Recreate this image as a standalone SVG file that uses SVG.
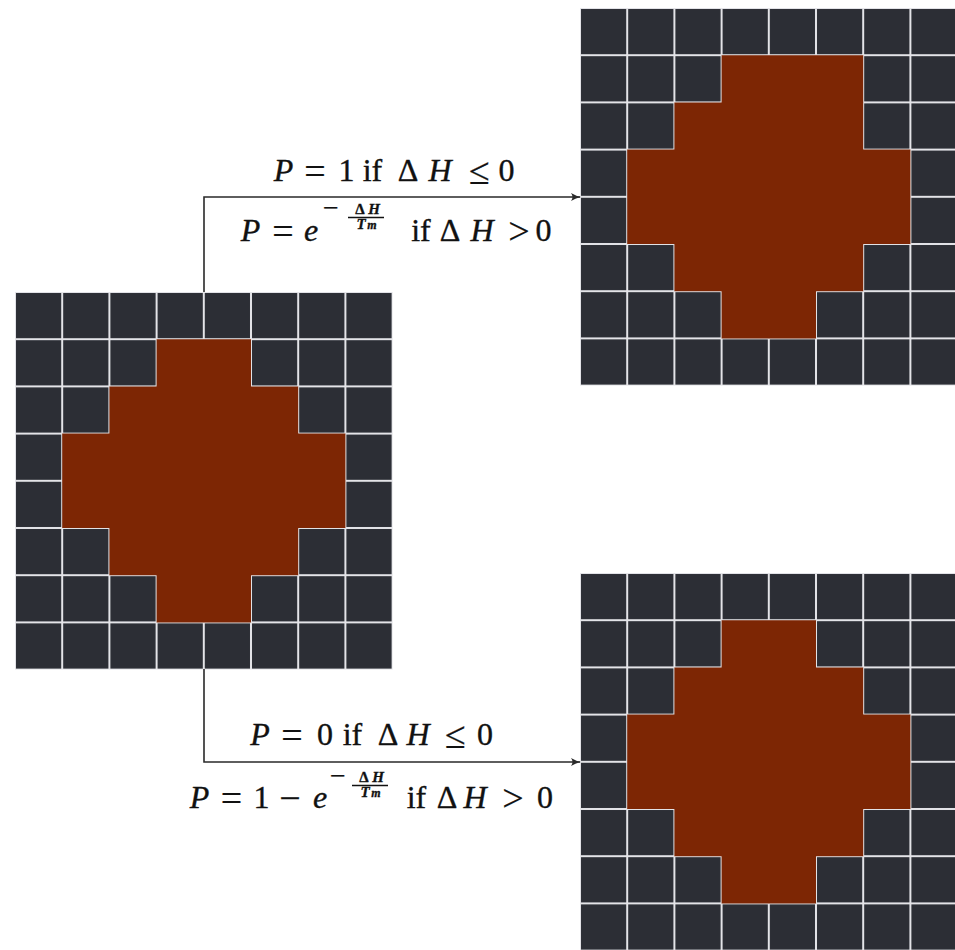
<svg xmlns="http://www.w3.org/2000/svg" width="955" height="950" viewBox="0 0 955 950">
<style>
.m{font-family:"Liberation Serif","DejaVu Serif",serif;font-size:32px;fill:#111;stroke:#111;stroke-width:0.35;text-anchor:middle}
.i{font-style:italic}
.r{font-size:38px;stroke-width:0.2}
.s{font-size:28px;stroke-width:0.2}
.t{font-size:15px;font-weight:bold}
.conn{fill:none;stroke:#2a2a2a;stroke-width:1.6}
.red{fill:#7d2604}
</style>
<defs>
<pattern id="cells" patternUnits="userSpaceOnUse" x="0" y="0" width="47.2" height="47.2">
<rect width="47.2" height="47.2" fill="#e4e4e8"/>
<rect x="1" y="1" width="45.2" height="45.2" fill="#2c2e35"/>
</pattern>
<marker id="arr" viewBox="0 0 10 10" refX="9" refY="5" markerWidth="10" markerHeight="10" markerUnits="userSpaceOnUse" orient="auto">
<path d="M0,1 Q5,4 10,5 Q5,6 0,9 Q3,5 0,1 Z" fill="#2a2a2a"/>
</marker>
</defs>
<rect width="955" height="950" fill="#ffffff"/>

<g id="grid-initial" transform="translate(15,292)">
<rect width="377.6" height="377.6" fill="url(#cells)"/>
<polygon class="red" transform="scale(47.2)" points="3,1 5,1 5,2 6,2 6,3 7,3 7,5 6,5 6,6 5,6 5,7 3,7 3,6 2,6 2,5 1,5 1,3 2,3 2,2 3,2"/>
</g>

<g id="grid-accepted" transform="translate(580,8)">
<rect width="377.6" height="377.6" fill="url(#cells)"/>
<polygon class="red" transform="scale(47.2)" points="3,1 6,1 6,3 7,3 7,5 6,5 6,6 5,6 5,7 3,7 3,6 2,6 2,5 1,5 1,3 2,3 2,2 3,2"/>
</g>

<g id="grid-rejected" transform="translate(580,573)">
<rect width="377.6" height="377.6" fill="url(#cells)"/>
<polygon class="red" transform="scale(47.2)" points="3,1 5,1 5,2 6,2 6,3 7,3 7,5 6,5 6,6 5,6 5,7 3,7 3,6 2,6 2,5 1,5 1,3 2,3 2,2 3,2"/>
</g>

<g id="connectors">
<path class="conn" d="M204,292 V197 H580" marker-end="url(#arr)"/>
<path class="conn" d="M204,669 V762 H580" marker-end="url(#arr)"/>
</g>

<g id="label-top">
<text class="m" y="181"><tspan class="i" x="283.5">P</tspan><tspan class="r" x="315" y="184">=</tspan><tspan x="346.5" y="181">1</tspan><tspan x="372.5">if</tspan><tspan x="408">Δ</tspan><tspan class="i" x="440">H</tspan><tspan class="r" x="479.5" y="184">≤</tspan><tspan x="506.5" y="181">0</tspan></text>
<text class="m" y="241"><tspan class="i" x="250.5">P</tspan><tspan class="r" x="283" y="244">=</tspan><tspan class="i" x="311" y="241">e</tspan><tspan x="421">if</tspan><tspan x="450">Δ</tspan><tspan class="i" x="482">H</tspan><tspan class="r" x="519" y="244">&gt;</tspan><tspan x="543.5" y="241">0</tspan></text>
<text class="m s" x="331" y="217">−</text>
<text class="m t" y="214"><tspan x="360">Δ</tspan><tspan class="i" x="374">H</tspan></text>
<line x1="348" y1="217.5" x2="384" y2="217.5" stroke="#111" stroke-width="1.3"/>
<text class="m t" y="229"><tspan class="i" x="361">T</tspan><tspan class="i" x="372" style="font-size:12px">m</tspan></text>
</g>

<g id="label-bottom">
<text class="m" y="745"><tspan class="i" x="260">P</tspan><tspan class="r" x="292" y="748">=</tspan><tspan x="325" y="745">0</tspan><tspan x="352.5">if</tspan><tspan x="388">Δ</tspan><tspan class="i" x="418">H</tspan><tspan class="r" x="455.5" y="748">≤</tspan><tspan x="485" y="745">0</tspan></text>
<text class="m" y="808"><tspan class="i" x="199.5">P</tspan><tspan class="r" x="231.5" y="811">=</tspan><tspan x="261.5" y="808">1</tspan><tspan class="r" x="290" y="811">−</tspan><tspan class="i" x="320" y="808">e</tspan><tspan x="416.5">if</tspan><tspan x="447">Δ</tspan><tspan class="i" x="475">H</tspan><tspan class="r" x="513" y="811">&gt;</tspan><tspan x="545" y="808">0</tspan></text>
<text class="m s" x="338" y="785">−</text>
<text class="m t" y="782"><tspan x="364">Δ</tspan><tspan class="i" x="378">H</tspan></text>
<line x1="352" y1="785.5" x2="388" y2="785.5" stroke="#111" stroke-width="1.3"/>
<text class="m t" y="797"><tspan class="i" x="365">T</tspan><tspan class="i" x="376" style="font-size:12px">m</tspan></text>
</g>
</svg>
